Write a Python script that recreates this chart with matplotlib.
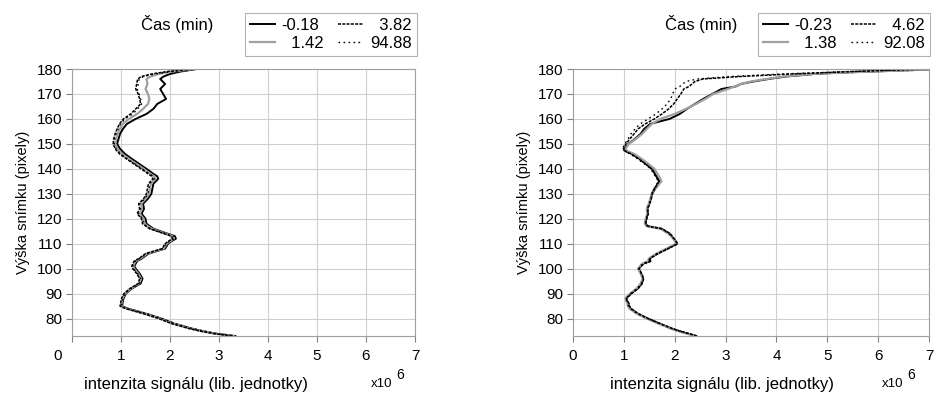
import matplotlib
matplotlib.use("Agg")
import matplotlib.pyplot as plt
import matplotlib.transforms as mtransforms

plt.rcParams["font.family"] = ["Liberation Sans", "DejaVu Sans"]

# ---- left panel data (x in units of 1e6) ----
y_left = [73, 74, 75, 76, 78, 80, 82, 84, 85, 86, 88, 90, 92, 94, 96, 98,
          100, 101, 102, 103, 104, 106, 108, 110, 111, 112, 113, 114, 116, 118, 120, 122,
          124, 126, 128, 130, 132, 134, 136, 137, 138, 140, 142, 144, 146, 148, 150, 152,
          154, 156, 158, 160, 162, 164, 166, 168, 170, 172, 174, 176, 177, 178, 179, 180]
left_m018 = [3.33, 2.92, 2.66, 2.44, 2.08, 1.82, 1.50, 1.14, 1.02, 1.03, 1.05, 1.10, 1.22, 1.40, 1.44, 1.38,
             1.30, 1.27, 1.30, 1.33, 1.42, 1.56, 1.90, 1.96, 2.03, 2.12, 2.10, 1.95, 1.66, 1.52, 1.50, 1.42,
             1.47, 1.45, 1.55, 1.62, 1.64, 1.66, 1.76, 1.74, 1.66, 1.52, 1.37, 1.22, 1.08, 0.98, 0.92, 0.95,
             0.98, 1.04, 1.12, 1.30, 1.52, 1.66, 1.74, 1.92, 1.86, 1.80, 1.90, 1.80, 1.87, 2.00, 2.22, 2.55]
left_142 = [3.30, 2.90, 2.63, 2.41, 2.05, 1.79, 1.47, 1.11, 1.00, 1.01, 1.03, 1.08, 1.20, 1.37, 1.41, 1.35,
            1.27, 1.25, 1.27, 1.30, 1.39, 1.53, 1.87, 1.93, 2.00, 2.08, 2.06, 1.91, 1.62, 1.48, 1.46, 1.38,
            1.43, 1.41, 1.50, 1.57, 1.59, 1.61, 1.70, 1.68, 1.60, 1.46, 1.31, 1.16, 1.02, 0.93, 0.88, 0.90,
            0.93, 0.98, 1.04, 1.16, 1.33, 1.45, 1.55, 1.58, 1.55, 1.50, 1.54, 1.52, 1.60, 1.76, 2.05, 2.50]
left_382 = [3.28, 2.88, 2.61, 2.39, 2.03, 1.77, 1.45, 1.09, 0.98, 0.99, 1.01, 1.06, 1.18, 1.35, 1.38, 1.32,
            1.24, 1.22, 1.24, 1.27, 1.36, 1.50, 1.84, 1.90, 1.97, 2.05, 2.03, 1.88, 1.58, 1.44, 1.42, 1.33,
            1.38, 1.36, 1.46, 1.52, 1.54, 1.56, 1.65, 1.63, 1.55, 1.41, 1.26, 1.11, 0.97, 0.88, 0.84, 0.85,
            0.88, 0.92, 0.97, 1.05, 1.20, 1.30, 1.40, 1.38, 1.35, 1.30, 1.32, 1.34, 1.42, 1.62, 1.95, 2.45]
left_9488 = [3.35, 2.94, 2.68, 2.45, 2.10, 1.84, 1.52, 1.12, 1.00, 1.02, 1.04, 1.08, 1.20, 1.38, 1.40, 1.34,
             1.26, 1.24, 1.26, 1.29, 1.38, 1.52, 1.86, 1.92, 1.99, 2.10, 2.08, 1.92, 1.60, 1.46, 1.44, 1.35,
             1.40, 1.38, 1.48, 1.55, 1.57, 1.58, 1.68, 1.66, 1.58, 1.43, 1.28, 1.13, 0.99, 0.90, 0.86, 0.87,
             0.90, 0.94, 0.99, 1.08, 1.24, 1.34, 1.42, 1.40, 1.37, 1.33, 1.35, 1.37, 1.46, 1.70, 2.05, 2.60]
left_labels = ["-0.18", "1.42", "3.82", "94.88"]

# ---- right panel data ----
y_right = [73, 74, 75, 76, 78, 80, 82, 84, 85, 86, 88, 90, 92, 94, 96, 98,
           100, 102, 103, 104, 106, 108, 110, 112, 114, 116, 117, 118, 120, 122, 124, 126,
           128, 130, 132, 134, 135, 136, 138, 140, 142, 144, 146, 147, 148, 150, 152, 154,
           156, 158, 160, 162, 164, 166, 168, 170, 172, 173, 174, 175, 176, 177, 178, 178.5,
           179, 179.5, 180]
right_m023 = [2.42, 2.25, 2.08, 1.94, 1.70, 1.47, 1.27, 1.13, 1.10, 1.09, 1.04, 1.14, 1.27, 1.35, 1.38, 1.34,
              1.29, 1.38, 1.52, 1.50, 1.66, 1.86, 2.05, 1.98, 1.90, 1.74, 1.47, 1.42, 1.44, 1.47, 1.46, 1.50,
              1.53, 1.55, 1.60, 1.67, 1.70, 1.67, 1.61, 1.56, 1.44, 1.31, 1.16, 1.05, 1.01, 1.09, 1.22, 1.33,
              1.40, 1.52, 1.90, 2.10, 2.24, 2.40, 2.56, 2.74, 2.92, 3.20, 3.30, 3.55, 3.85, 4.20, 4.75, 5.20,
              5.90, 6.60, 7.20]
right_138 = [2.40, 2.23, 2.06, 1.92, 1.68, 1.45, 1.25, 1.11, 1.08, 1.07, 1.03, 1.12, 1.25, 1.33, 1.37, 1.33,
             1.28, 1.36, 1.48, 1.49, 1.64, 1.84, 2.04, 1.97, 1.88, 1.72, 1.45, 1.41, 1.43, 1.46, 1.45, 1.49,
             1.52, 1.56, 1.62, 1.70, 1.74, 1.72, 1.66, 1.60, 1.48, 1.35, 1.20, 1.08, 1.03, 1.10, 1.24, 1.36,
             1.45, 1.55, 1.72, 2.00, 2.22, 2.42, 2.60, 2.76, 3.05, 3.18, 3.30, 3.50, 3.80, 4.15, 4.70, 5.20,
             5.90, 6.60, 7.20]
right_462 = [2.44, 2.27, 2.10, 1.95, 1.71, 1.48, 1.28, 1.14, 1.11, 1.10, 1.05, 1.15, 1.28, 1.36, 1.39, 1.35,
             1.30, 1.39, 1.54, 1.51, 1.67, 1.87, 2.06, 1.99, 1.91, 1.75, 1.48, 1.43, 1.45, 1.48, 1.47, 1.51,
             1.54, 1.56, 1.61, 1.66, 1.69, 1.66, 1.60, 1.54, 1.42, 1.29, 1.14, 1.03, 0.99, 1.04, 1.12, 1.20,
             1.28, 1.42, 1.60, 1.75, 1.88, 1.98, 2.05, 2.12, 2.18, 2.28, 2.34, 2.40, 2.55, 3.30, 4.30, 4.90,
             5.50, 6.20, 7.00]
right_9208 = [2.43, 2.26, 2.09, 1.94, 1.70, 1.46, 1.26, 1.12, 1.09, 1.08, 1.04, 1.13, 1.26, 1.34, 1.38, 1.34,
              1.29, 1.37, 1.50, 1.50, 1.65, 1.85, 2.05, 1.98, 1.89, 1.73, 1.46, 1.42, 1.44, 1.47, 1.46, 1.50,
              1.53, 1.55, 1.60, 1.65, 1.68, 1.65, 1.59, 1.53, 1.40, 1.27, 1.12, 1.02, 0.97, 1.02, 1.08, 1.14,
              1.22, 1.32, 1.48, 1.63, 1.75, 1.85, 1.92, 1.96, 2.00, 2.10, 2.16, 2.22, 2.45, 3.10, 4.10, 4.80,
              5.50, 6.30, 7.00]
right_labels = ["-0.23", "1.38", "4.62", "92.08"]

x_ticks = [0, 1, 2, 3, 4, 5, 6, 7]
y_ticks = [80, 90, 100, 110, 120, 130, 140, 150, 160, 170, 180]

styles = [
    dict(color="black", lw=1.4, ls="-"),
    dict(color="#a0a0a0", lw=1.6, ls="-"),
    dict(color="black", lw=1.1, ls=(0, (2.0, 0.8))),
    dict(color="black", lw=1.0, ls=(0, (1.2, 2.4))),
]

fig = plt.figure(figsize=(9.35, 3.98), dpi=100)
ax_l = fig.add_axes([72 / 935, 1 - 336 / 398, 343 / 935, 267 / 398])
ax_r = fig.add_axes([573 / 935, 1 - 336 / 398, 356 / 935, 267 / 398])


def pad_label(text, width):
    # right-align the legend numbers like the original (figure spaces)
    return "\u2007" * (width - len(text)) + text


def draw_panel(ax, y, series, labels, leg_x, title_x, xlabel_x, exp_x):
    for x, lab, st in zip(series, labels, styles):
        ax.plot(x, y, label=lab, **st)
    ax.set_xlim(0, 7)
    ax.set_ylim(73, 180)
    ax.set_xticks(x_ticks)
    ax.set_yticks(y_ticks)
    ax.grid(True, color="#cfcfcf", lw=0.8)
    ax.set_axisbelow(True)
    for s in ax.spines.values():
        s.set_color("#a0a0a0")
        s.set_linewidth(0.8)
    ax.tick_params(colors="#808080", labelcolor="black", labelsize=11, length=4, width=0.8)
    ax.tick_params(axis="x", pad=5)
    ax.tick_params(axis="y", pad=3)
    ax.set_ylabel("Výška snímku (pixely)", fontsize=10.5, labelpad=5)

    fig.text(xlabel_x / 935, 1 - 384 / 398, "intenzita signálu (lib. jednotky)",
             fontsize=12, ha="center", va="center")
    fig.text(exp_x / 935, 1 - 384 / 398, "x10", fontsize=9.5, ha="center", va="center")
    fig.text((exp_x + 18) / 935, 1 - 375 / 398, "6", fontsize=10, ha="center", va="center")
    fig.text(title_x / 935, 1 - 24 / 398, "Čas (min)", fontsize=12, ha="center", va="center")

    handles, labs = ax.get_legend_handles_labels()
    labs = [pad_label(t, 5) for t in labs]
    leg = ax.legend(handles, labs, ncol=2, loc="upper left",
                    bbox_to_anchor=(leg_x / 935, 1 - 13 / 398), bbox_transform=fig.transFigure,
                    fontsize=12, frameon=True, fancybox=False, edgecolor="#a0a0a0",
                    handlelength=1.5, handletextpad=0.4, columnspacing=0.9,
                    borderpad=0.3, labelspacing=0.15, borderaxespad=0)
    leg.get_frame().set_linewidth(0.8)


draw_panel(ax_l, y_left, [left_m018, left_142, left_382, left_9488], left_labels,
           245, 177, 196, 382)
draw_panel(ax_r, y_right, [right_m023, right_138, right_462, right_9208], right_labels,
           758, 701, 722, 893)

# the "0" label on the left panel sits left of the axis
off = mtransforms.ScaledTranslation(-14 / 100, 0, fig.dpi_scale_trans)
lab0 = ax_l.get_xticklabels()[0]
lab0.set_transform(lab0.get_transform() + off)

fig.savefig("out.png", dpi=100)
